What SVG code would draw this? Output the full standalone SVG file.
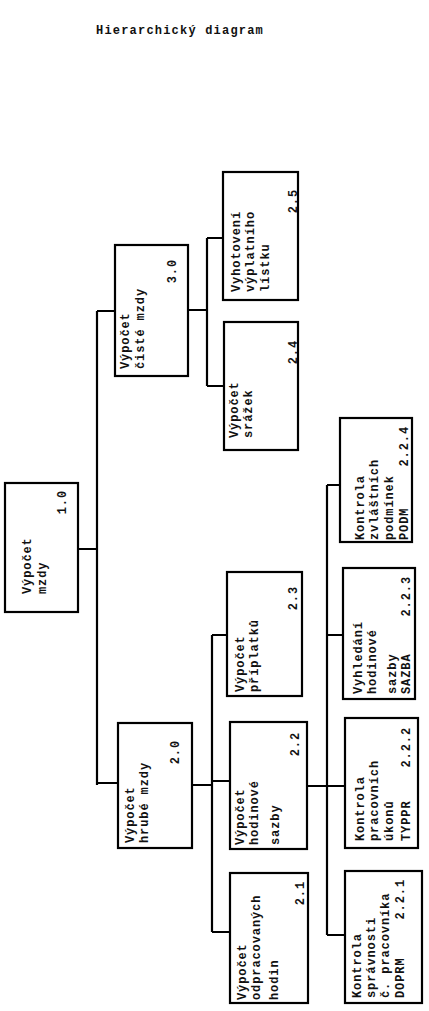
<svg xmlns="http://www.w3.org/2000/svg" width="429" height="1011" viewBox="0 0 429 1011">
<style>
.bg{fill:#fff}
.box{fill:#fff;stroke:#000;stroke-width:2.2}
.c{fill:none;stroke:#000;stroke-width:2.2}
.t{font-family:"Liberation Mono","DejaVu Sans Mono",monospace;font-weight:bold;font-size:12px;letter-spacing:0.9px;fill:#111}
.e{text-anchor:end}
.title{font-family:"Liberation Mono","DejaVu Sans Mono",monospace;font-weight:bold;font-size:12px;letter-spacing:1.2px;fill:#111}
</style>
<rect class="bg" x="0" y="0" width="429" height="1011"/>
<text class="title" x="96" y="34">Hierarchický diagram</text>

<g id="connectors">
<path class="c" d="M78,549H97 M97,311V785 M97,311H115 M97,783H118"/>
<path class="c" d="M188,310H207 M207,238V386 M207,238H223 M207,386H224"/>
<path class="c" d="M192,785H212 M212,635V932 M212,635H227 M212,781H230 M212,932H230"/>
<path class="c" d="M307,786H327 M327,485V935 M327,485H340 M327,635H343 M327,786H345 M327,935H345"/>
</g>

<g id="n1_0">
<rect class="box" x="5" y="483" width="73" height="129"/>
<text class="t" transform="translate(31,594) rotate(-90)">Výpočet</text>
<text class="t" transform="translate(46,594) rotate(-90)">mzdy</text>
<text class="t e" transform="translate(66,490) rotate(-90)">1.0</text>
</g>

<g id="n3_0">
<rect class="box" x="115" y="245" width="73" height="131"/>
<text class="t" transform="translate(129,369) rotate(-90)">Výpočet</text>
<text class="t" transform="translate(144,369) rotate(-90)">čisté mzdy</text>
<text class="t e" transform="translate(176,259) rotate(-90)">3.0</text>
</g>

<g id="n2_0">
<rect class="box" x="118" y="723" width="74" height="125"/>
<text class="t" transform="translate(134,843) rotate(-90)">Výpočet</text>
<text class="t" transform="translate(148,843) rotate(-90)">hrubé mzdy</text>
<text class="t e" transform="translate(179,740) rotate(-90)">2.0</text>
</g>

<g id="n2_5">
<rect class="box" x="223" y="172" width="75" height="128"/>
<text class="t" transform="translate(240,292) rotate(-90)">Vyhotovení</text>
<text class="t" transform="translate(254,292) rotate(-90)">výplatního</text>
<text class="t" transform="translate(269,292) rotate(-90)">lístku</text>
<text class="t e" transform="translate(297,189) rotate(-90)">2.5</text>
</g>

<g id="n2_4">
<rect class="box" x="224" y="322" width="74" height="128"/>
<text class="t" transform="translate(238,438) rotate(-90)">Výpočet</text>
<text class="t" transform="translate(252,438) rotate(-90)">srážek</text>
<text class="t e" transform="translate(297,340) rotate(-90)">2.4</text>
</g>

<g id="n2_3">
<rect class="box" x="227" y="572" width="75" height="124"/>
<text class="t" transform="translate(244,692) rotate(-90)">Výpočet</text>
<text class="t" transform="translate(258,692) rotate(-90)">příplatků</text>
<text class="t e" transform="translate(297,586) rotate(-90)">2.3</text>
</g>

<g id="n2_2">
<rect class="box" x="230" y="722" width="77" height="127"/>
<text class="t" transform="translate(244,845) rotate(-90)">Výpočet</text>
<text class="t" transform="translate(258,845) rotate(-90)">hodinové</text>
<text class="t" transform="translate(279,845) rotate(-90)">sazby</text>
<text class="t e" transform="translate(299,732) rotate(-90)">2.2</text>
</g>

<g id="n2_1">
<rect class="box" x="230" y="873" width="78" height="130"/>
<text class="t" transform="translate(246,1000) rotate(-90)">Výpočet</text>
<text class="t" transform="translate(260,1000) rotate(-90)">odpracovaných</text>
<text class="t" transform="translate(278,1000) rotate(-90)">hodin</text>
<text class="t e" transform="translate(304,881) rotate(-90)">2.1</text>
</g>

<g id="n2_2_4">
<rect class="box" x="340" y="418" width="72" height="124"/>
<text class="t" transform="translate(364,540) rotate(-90)">Kontrola</text>
<text class="t" transform="translate(378,540) rotate(-90)">zvláštních</text>
<text class="t" transform="translate(393,540) rotate(-90)">podmínek</text>
<text class="t" transform="translate(408,540) rotate(-90)">PODM</text>
<text class="t e" transform="translate(408,426) rotate(-90)">2.2.4</text>
</g>

<g id="n2_2_3">
<rect class="box" x="343" y="568" width="72" height="131"/>
<text class="t" transform="translate(362,694) rotate(-90)">Vyhledání</text>
<text class="t" transform="translate(376,694) rotate(-90)">hodinové</text>
<text class="t" transform="translate(396,694) rotate(-90)">sazby</text>
<text class="t" transform="translate(410,694) rotate(-90)">SAZBA</text>
<text class="t e" transform="translate(410,576) rotate(-90)">2.2.3</text>
</g>

<g id="n2_2_2">
<rect class="box" x="345" y="718" width="73" height="130"/>
<text class="t" transform="translate(364,841) rotate(-90)">Kontrola</text>
<text class="t" transform="translate(378,841) rotate(-90)">pracovních</text>
<text class="t" transform="translate(393,841) rotate(-90)">úkonů</text>
<text class="t" transform="translate(410,841) rotate(-90)">TYPPR</text>
<text class="t e" transform="translate(410,727) rotate(-90)">2.2.2</text>
</g>

<g id="n2_2_1">
<rect class="box" x="345" y="871" width="77" height="132"/>
<text class="t" transform="translate(361,998) rotate(-90)">Kontrola</text>
<text class="t" transform="translate(375,998) rotate(-90)">správnosti</text>
<text class="t" transform="translate(389,998) rotate(-90)">č. pracovníka</text>
<text class="t" transform="translate(404,998) rotate(-90)">DOPRM</text>
<text class="t e" transform="translate(404,879) rotate(-90)">2.2.1</text>
</g>
</svg>
